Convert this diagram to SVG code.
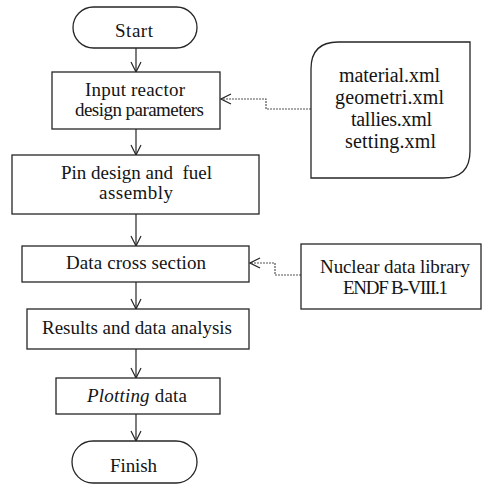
<svg xmlns="http://www.w3.org/2000/svg" width="482" height="485" viewBox="0 0 482 485">
  <style>
    .box { fill: #ffffff; stroke: #262626; stroke-width: 1.3; }
    .lbl { font-family: 'Liberation Serif', 'Times New Roman', serif; font-size: 19px; fill: #141414; text-anchor: middle; }
    .big { font-size: 20px; }
    .flow { fill: none; stroke: #262626; stroke-width: 1.2; }
    .dash { fill: none; stroke: #555555; stroke-width: 1.2; stroke-dasharray: 2 1; }
  </style>
  <defs>
    <marker id="vee" viewBox="0 0 12 12" refX="11" refY="6" markerWidth="12" markerHeight="12" markerUnits="userSpaceOnUse" orient="auto">
      <path d="M1,1 L11,6 L1,11" fill="none" stroke="#262626" stroke-width="1.2"/>
    </marker>
  </defs>

  <g id="connectors">
    <line class="flow" x1="136" y1="48" x2="136" y2="72" marker-end="url(#vee)"/>
    <line class="flow" x1="136" y1="129" x2="136" y2="155" marker-end="url(#vee)"/>
    <line class="flow" x1="136" y1="214" x2="136" y2="246" marker-end="url(#vee)"/>
    <line class="flow" x1="136" y1="282" x2="136" y2="309" marker-end="url(#vee)"/>
    <line class="flow" x1="136" y1="349" x2="136" y2="378" marker-end="url(#vee)"/>
    <line class="flow" x1="136" y1="414" x2="136" y2="441" marker-end="url(#vee)"/>
    <polyline class="dash" points="311,109 266,109 266,99 221,99" marker-end="url(#vee)"/>
    <polyline class="dash" points="301,275 275,275 275,263 250,263" marker-end="url(#vee)"/>
  </g>

  <g id="start">
    <rect class="box" x="73" y="7" width="124" height="41" rx="20.5"/>
    <text class="lbl" x="134" y="37" textLength="38">Start</text>
  </g>

  <g id="input-params">
    <rect class="box" x="52" y="72" width="168" height="57"/>
    <text class="lbl" x="135" y="96" textLength="100">Input reactor</text>
    <text class="lbl" x="139.5" y="116" textLength="129">design parameters</text>
  </g>

  <g id="xml-files">
    <path class="box" d="M311,69 Q311,42 338,42 L470,42 L470,151 Q470,178 443,178 L311,178 Z"/>
    <text class="lbl big" x="389.5" y="82" textLength="101">material.xml</text>
    <text class="lbl big" x="389.5" y="104" textLength="109">geometri.xml</text>
    <text class="lbl big" x="391.5" y="126" textLength="81">tallies.xml</text>
    <text class="lbl big" x="390.5" y="148" textLength="91">setting.xml</text>
  </g>

  <g id="pin-design">
    <rect class="box" x="12" y="155" width="247" height="59"/>
    <text class="lbl" x="136.5" y="179" xml:space="preserve" textLength="151">Pin design and  fuel</text>
    <text class="lbl" x="136" y="199" textLength="74">assembly</text>
  </g>

  <g id="cross-section">
    <rect class="box" x="22" y="246" width="227" height="36"/>
    <text class="lbl" x="136" y="269" textLength="140">Data cross section</text>
  </g>

  <g id="nuclear-library">
    <rect class="box" x="301" y="244" width="180" height="65"/>
    <text class="lbl" x="395" y="273" textLength="150">Nuclear data library</text>
    <text class="lbl" x="395.5" y="294" textLength="105">ENDF B-VIII.1</text>
  </g>

  <g id="results">
    <rect class="box" x="27" y="309" width="222" height="40"/>
    <text class="lbl" x="137" y="334" textLength="190">Results and data analysis</text>
  </g>

  <g id="plotting">
    <rect class="box" x="56" y="378" width="164" height="36"/>
    <text class="lbl" x="137" y="402" textLength="100"><tspan font-style="italic">Plotting</tspan> data</text>
  </g>

  <g id="finish">
    <rect class="box" x="72" y="441" width="125" height="42" rx="21"/>
    <text class="lbl" x="133.5" y="472" textLength="47">Finish</text>
  </g>
</svg>
